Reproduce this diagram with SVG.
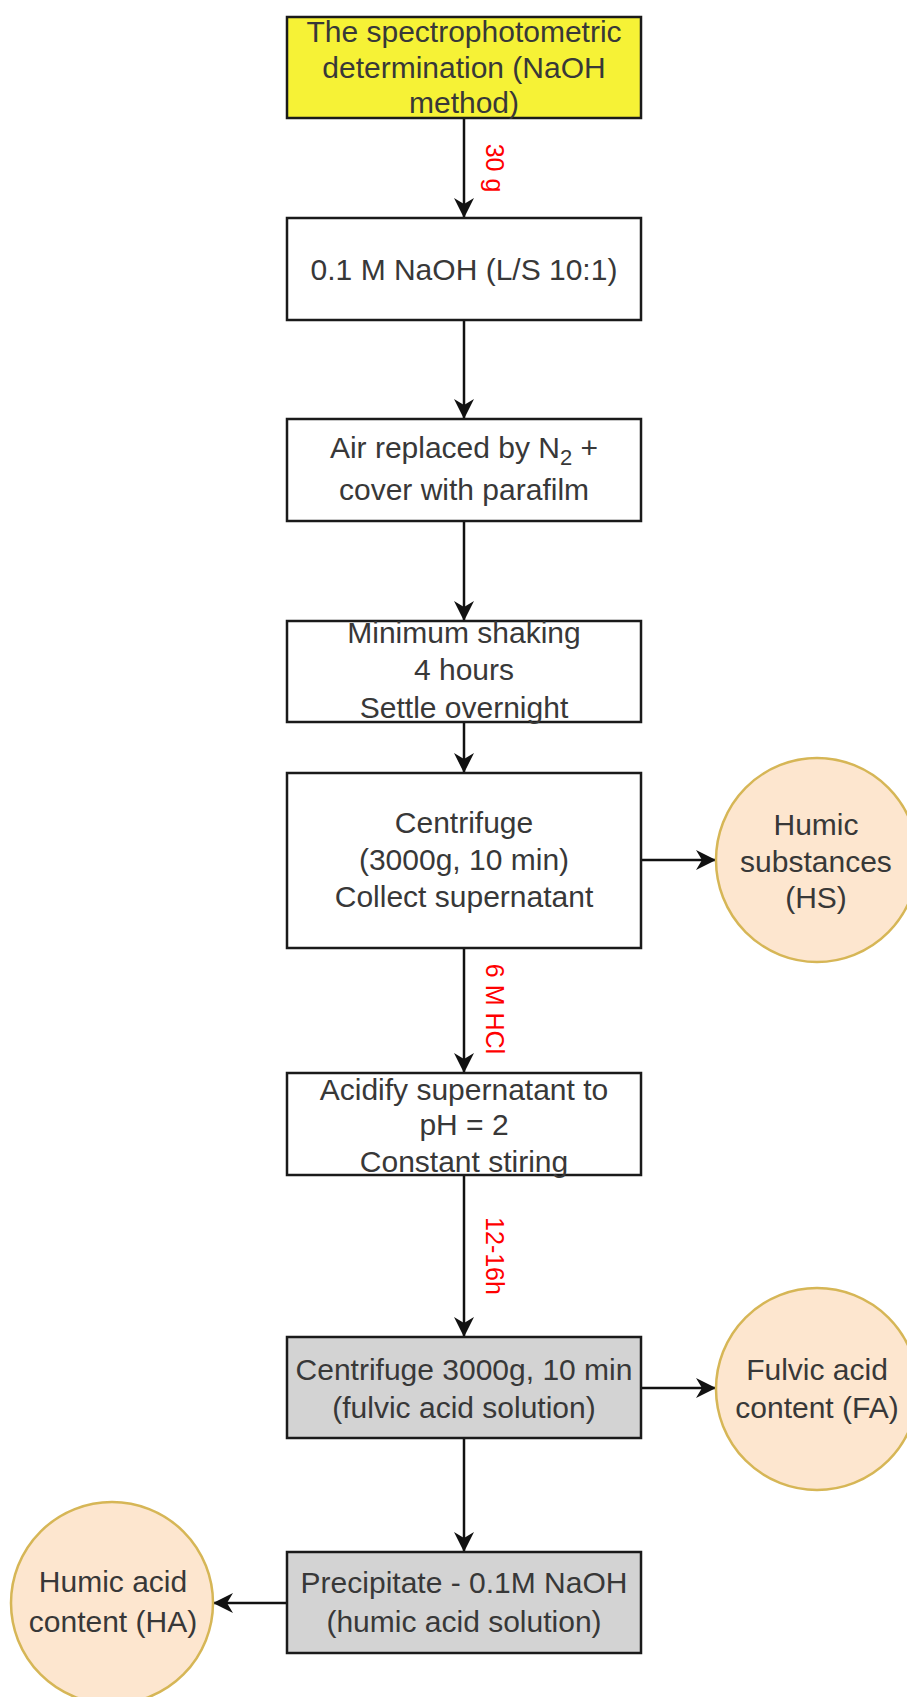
<svg xmlns="http://www.w3.org/2000/svg" width="907" height="1697" viewBox="0 0 907 1697">
<style>
.box{stroke:#1a1a1a;stroke-width:2.5;fill:#ffffff}
.yellow{fill:#f6f236}
.gray{fill:#d3d3d3}
.circ{fill:#fde6cf;stroke:#d6b656;stroke-width:2.5}
.t{font-family:"Liberation Sans",Arial,sans-serif;font-size:30px;fill:#383838;text-anchor:middle}
.lbl{font-family:"Liberation Sans",Arial,sans-serif;font-size:25px;fill:#ff0000;text-anchor:middle;dominant-baseline:central}
.edge{stroke:#111111;stroke-width:2.5;fill:none;marker-end:url(#arr)}
</style>
<defs>
<marker id="arr" markerUnits="userSpaceOnUse" markerWidth="22" markerHeight="22" viewBox="-21 -11 22 22" refX="0" refY="0" orient="auto">
<path d="M0,0 L-20,-10 L-14,0 L-20,10 Z" fill="#111111"/>
</marker>
</defs>
<rect width="907" height="1697" fill="#ffffff"/>
<g id="connectors">
<line class="edge" x1="464" y1="118" x2="464" y2="218"/>
<line class="edge" x1="464" y1="320" x2="464" y2="419"/>
<line class="edge" x1="464" y1="521" x2="464" y2="621"/>
<line class="edge" x1="464" y1="722" x2="464" y2="773"/>
<line class="edge" x1="641" y1="860" x2="716" y2="860"/>
<line class="edge" x1="464" y1="948" x2="464" y2="1073"/>
<line class="edge" x1="464" y1="1175" x2="464" y2="1337"/>
<line class="edge" x1="641" y1="1388" x2="716" y2="1388"/>
<line class="edge" x1="464" y1="1438" x2="464" y2="1552"/>
<line class="edge" x1="287" y1="1603" x2="213" y2="1603"/>
<text class="lbl" transform="translate(495,168) rotate(90)">30 g</text>
<text class="lbl" transform="translate(495,1009) rotate(90)">6 M HCl</text>
<text class="lbl" transform="translate(495,1256) rotate(90)">12-16h</text>
</g>
<g id="n1">
<rect class="box yellow" x="287" y="17" width="354" height="101"/>
<text class="t" x="464" y="42">The spectrophotometric</text>
<text class="t" x="464" y="78">determination (NaOH</text>
<text class="t" x="464" y="113">method)</text>
</g>
<g id="n2">
<rect class="box" x="287" y="218" width="354" height="102"/>
<text class="t" x="464" y="280">0.1 M NaOH (L/S 10:1)</text>
</g>
<g id="n3">
<rect class="box" x="287" y="419" width="354" height="102"/>
<text class="t" x="464" y="458">Air replaced by N<tspan font-size="22" dy="7">2</tspan><tspan dy="-7"> +</tspan></text>
<text class="t" x="464" y="500">cover with parafilm</text>
</g>
<g id="n4">
<rect class="box" x="287" y="621" width="354" height="101"/>
<text class="t" x="464" y="643">Minimum shaking</text>
<text class="t" x="464" y="680">4 hours</text>
<text class="t" x="464" y="718">Settle overnight</text>
</g>
<g id="n5">
<rect class="box" x="287" y="773" width="354" height="175"/>
<text class="t" x="464" y="833">Centrifuge</text>
<text class="t" x="464" y="870">(3000g, 10 min)</text>
<text class="t" x="464" y="907">Collect supernatant</text>
</g>
<g id="hs">
<ellipse class="circ" cx="817" cy="860" rx="101" ry="102"/>
<text class="t" x="816" y="835">Humic</text>
<text class="t" x="816" y="872">substances</text>
<text class="t" x="816" y="908">(HS)</text>
</g>
<g id="n6">
<rect class="box" x="287" y="1073" width="354" height="102"/>
<text class="t" x="464" y="1100">Acidify supernatant to</text>
<text class="t" x="464" y="1135">pH = 2</text>
<text class="t" x="464" y="1172">Constant stiring</text>
</g>
<g id="n7">
<rect class="box gray" x="287" y="1337" width="354" height="101"/>
<text class="t" x="464" y="1380">Centrifuge 3000g, 10 min</text>
<text class="t" x="464" y="1418">(fulvic acid solution)</text>
</g>
<g id="fa">
<ellipse class="circ" cx="817" cy="1389" rx="101" ry="101"/>
<text class="t" x="817" y="1380">Fulvic acid</text>
<text class="t" x="817" y="1418">content (FA)</text>
</g>
<g id="n8">
<rect class="box gray" x="287" y="1552" width="354" height="101"/>
<text class="t" x="464" y="1593">Precipitate - 0.1M NaOH</text>
<text class="t" x="464" y="1632">(humic acid solution)</text>
</g>
<g id="ha">
<ellipse class="circ" cx="112" cy="1603" rx="101" ry="101"/>
<text class="t" x="113" y="1592">Humic acid</text>
<text class="t" x="113" y="1632">content (HA)</text>
</g>
</svg>
